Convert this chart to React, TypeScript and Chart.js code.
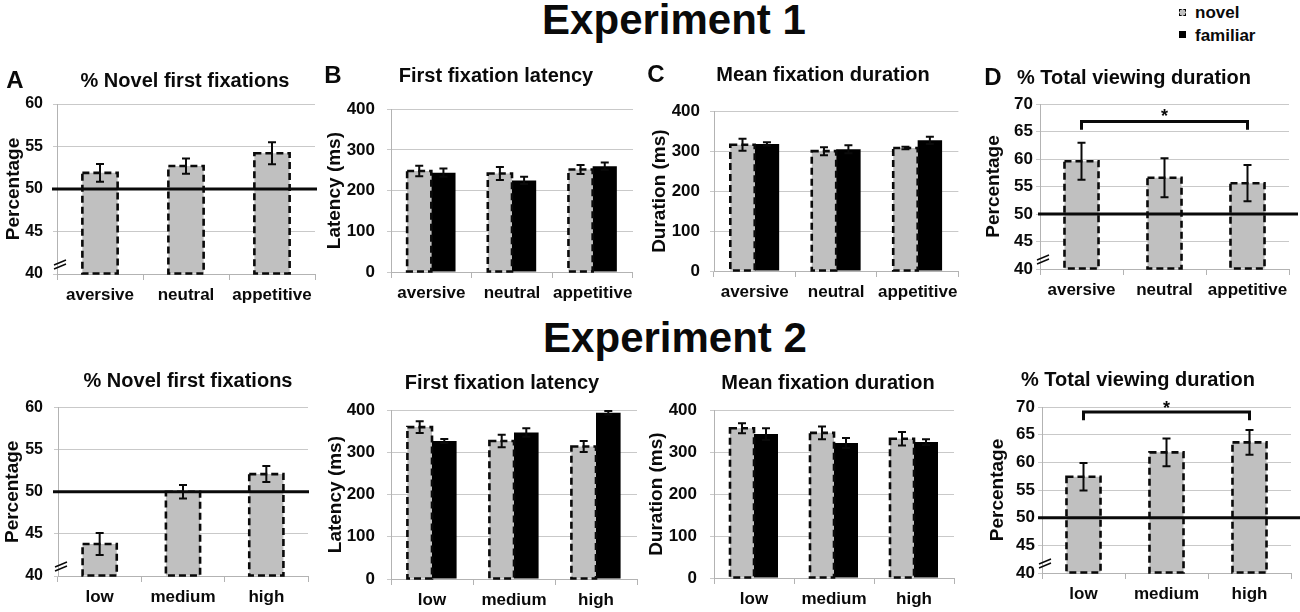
import React, { useEffect, useRef } from "react";
import { Chart, registerables } from "chart.js";

Chart.register(...registerables);

const FONT = "'Liberation Sans', Arial, Helvetica, sans-serif";

// ---------- categories ----------
const exp1Categories = ["aversive", "neutral", "appetitive"];
const exp2Categories = ["low", "medium", "high"];

// ---------- Experiment 1 ----------
const e1FirstFixNovel = [51.9, 52.7, 54.2];
const e1FirstFixNovelErr = [1.05, 0.9, 1.3];

const e1LatencyNovel = [248, 242, 252];
const e1LatencyNovelErr = [13, 16, 11];
const e1LatencyFamiliar = [244, 225, 260];
const e1LatencyFamiliarErr = [10, 9, 9];

const e1DurationNovel = [316, 300, 308];
const e1DurationNovelErr = [15, 10, 3];
const e1DurationFamiliar = [318, 305, 327];
const e1DurationFamiliarErr = [4, 10, 9];

const e1ViewingNovel = [59.6, 56.6, 55.6];
const e1ViewingNovelErr = [3.35, 3.55, 3.3];
const e1Bracket = { from: 0, to: 2, y: 66.8, tickEnd: 65.3, star: 68.6 };

// ---------- Experiment 2 ----------
const e2FirstFixNovel = [43.8, 50.0, 52.1];
const e2FirstFixNovelErr = [1.3, 0.8, 0.95];

const e2LatencyNovel = [360, 327, 314];
const e2LatencyNovelErr = [14, 15, 13];
const e2LatencyFamiliar = [327, 347, 394];
const e2LatencyFamiliarErr = [5, 10, 4];

const e2DurationNovel = [357, 346, 332];
const e2DurationNovelErr = [12, 15, 16];
const e2DurationFamiliar = [343, 322, 324];
const e2DurationFamiliarErr = [14, 12, 7];

const e2ViewingNovel = [57.4, 61.8, 63.6];
const e2ViewingNovelErr = [2.5, 2.5, 2.25];
const e2Bracket = { from: 0, to: 2, y: 69.1, tickEnd: 67.6, star: 70.6 };

// ---------- axis ranges ----------
const pctTicks = { min: 40, max: 60, step: 5 };
const pctTicksWide = { min: 40, max: 70, step: 5 };
const msTicks = { min: 0, max: 400, step: 100 };
const chanceLevel = 50;

type Bracket = { from: number; to: number; y: number; tickEnd: number; star: number };
type PanelData = {
  key: string;
  categories: string[];
  novel: number[];
  novelErr: number[];
  familiar?: number[];
  familiarErr?: number[];
  range: { min: number; max: number; step: number };
  yTitle: string;
  refLine?: number;
  bracket?: Bracket;
  breakMark?: boolean;
};

const panels: PanelData[] = [
  { key: "A", categories: exp1Categories, novel: e1FirstFixNovel, novelErr: e1FirstFixNovelErr, range: pctTicks, yTitle: "Percentage", refLine: chanceLevel, breakMark: true },
  { key: "B", categories: exp1Categories, novel: e1LatencyNovel, novelErr: e1LatencyNovelErr, familiar: e1LatencyFamiliar, familiarErr: e1LatencyFamiliarErr, range: msTicks, yTitle: "Latency (ms)" },
  { key: "C", categories: exp1Categories, novel: e1DurationNovel, novelErr: e1DurationNovelErr, familiar: e1DurationFamiliar, familiarErr: e1DurationFamiliarErr, range: msTicks, yTitle: "Duration (ms)" },
  { key: "D", categories: exp1Categories, novel: e1ViewingNovel, novelErr: e1ViewingNovelErr, range: pctTicksWide, yTitle: "Percentage", refLine: chanceLevel, bracket: e1Bracket, breakMark: true },
  { key: "E", categories: exp2Categories, novel: e2FirstFixNovel, novelErr: e2FirstFixNovelErr, range: pctTicks, yTitle: "Percentage", refLine: chanceLevel, breakMark: true },
  { key: "F", categories: exp2Categories, novel: e2LatencyNovel, novelErr: e2LatencyNovelErr, familiar: e2LatencyFamiliar, familiarErr: e2LatencyFamiliarErr, range: msTicks, yTitle: "Latency (ms)" },
  { key: "G", categories: exp2Categories, novel: e2DurationNovel, novelErr: e2DurationNovelErr, familiar: e2DurationFamiliar, familiarErr: e2DurationFamiliarErr, range: msTicks, yTitle: "Duration (ms)" },
  { key: "H", categories: exp2Categories, novel: e2ViewingNovel, novelErr: e2ViewingNovelErr, range: pctTicksWide, yTitle: "Percentage", refLine: chanceLevel, bracket: e2Bracket, breakMark: true },
];

// ---------- layout (pixel geometry, kept apart from data) ----------
type Geo = {
  axisTitleX: number; plotLeft: number; plotRight: number; plotTop: number; plotBottom: number;
  tickRight: number; extL: number; extR: number; tickFont: number;
};
const geometry: Record<string, Geo> = {
  A: { axisTitleX: 13, plotLeft: 57, plotRight: 315, plotTop: 104, plotBottom: 274, tickRight: 43, extL: 5, extR: 2, tickFont: 16 },
  B: { axisTitleX: 334, plotLeft: 391, plotRight: 634, plotTop: 107, plotBottom: 272, tickRight: 375, extL: 0, extR: 4, tickFont: 17 },
  C: { axisTitleX: 659, plotLeft: 714, plotRight: 959, plotTop: 111, plotBottom: 271, tickRight: 700, extL: 0, extR: 4, tickFont: 17 },
  D: { axisTitleX: 993, plotLeft: 1040, plotRight: 1289, plotTop: 104, plotBottom: 269, tickRight: 1033, extL: 2, extR: 9, tickFont: 17 },
  E: { axisTitleX: 12, plotLeft: 58, plotRight: 308, plotTop: 407, plotBottom: 576, tickRight: 43, extL: 5, extR: 1, tickFont: 16 },
  F: { axisTitleX: 335, plotLeft: 391, plotRight: 637, plotTop: 408, plotBottom: 579, tickRight: 375, extL: 0, extR: 4, tickFont: 17 },
  G: { axisTitleX: 656, plotLeft: 714, plotRight: 954, plotTop: 407, plotBottom: 578, tickRight: 697, extL: 0, extR: 4, tickFont: 17 },
  H: { axisTitleX: 997, plotLeft: 1042, plotRight: 1291, plotTop: 407, plotBottom: 573, tickRight: 1035, extL: 4, extR: 9, tickFont: 17 },
};

const NOVEL_FILL = "#c0c0c0";
const GRID = "#c9c9c9";
const AXIS = "#b3b3b3";
const INK = "#0a0a0a";

function makeExtras(p: PanelData, g: Geo) {
  return {
    id: "extras" + p.key,
    afterDatasetsDraw(chart: any) {
      const ctx: CanvasRenderingContext2D = chart.ctx;
      const ys = chart.scales.y;
      const xs = chart.scales.x;
      const area = chart.chartArea;
      const novelMeta = chart.getDatasetMeta(0);

      // dashed outline of the novel bars
      ctx.save();
      ctx.strokeStyle = INK;
      ctx.lineWidth = 2.6;
      ctx.setLineDash([7, 4]);
      novelMeta.data.forEach((el: any) => {
        const { x, y, base, width } = el.getProps(["x", "y", "base", "width"], true);
        const b = Math.min(base, area.bottom);
        ctx.strokeRect(x - width / 2, y, width, b - y);
      });
      ctx.restore();

      // chance line
      if (p.refLine !== undefined) {
        const yy = ys.getPixelForValue(p.refLine);
        ctx.save();
        ctx.strokeStyle = INK;
        ctx.lineWidth = 3;
        ctx.beginPath();
        ctx.moveTo(area.left - g.extL, yy);
        ctx.lineTo(area.right + g.extR, yy);
        ctx.stroke();
        ctx.restore();
      }

      // error bars
      const drawErr = (idx: number, vals: number[], errs: number[]) => {
        const meta = chart.getDatasetMeta(idx);
        ctx.save();
        ctx.strokeStyle = INK;
        ctx.lineWidth = 2;
        meta.data.forEach((el: any, i: number) => {
          const x = el.x;
          const yt = ys.getPixelForValue(vals[i] + errs[i]);
          const yb = ys.getPixelForValue(vals[i] - errs[i]);
          ctx.beginPath();
          ctx.moveTo(x, yt);
          ctx.lineTo(x, yb);
          ctx.moveTo(x - 4, yt);
          ctx.lineTo(x + 4, yt);
          ctx.moveTo(x - 4, yb);
          ctx.lineTo(x + 4, yb);
          ctx.stroke();
        });
        ctx.restore();
      };
      drawErr(0, p.novel, p.novelErr);
      if (p.familiar && p.familiarErr) drawErr(1, p.familiar, p.familiarErr);

      // significance bracket
      if (p.bracket) {
        const b = p.bracket;
        const x1 = xs.getPixelForValue(b.from);
        const x2 = xs.getPixelForValue(b.to);
        const yb = ys.getPixelForValue(b.y);
        const yt = ys.getPixelForValue(b.tickEnd);
        ctx.save();
        ctx.strokeStyle = INK;
        ctx.lineWidth = 3;
        ctx.beginPath();
        ctx.moveTo(x1, yt);
        ctx.lineTo(x1, yb);
        ctx.lineTo(x2, yb);
        ctx.lineTo(x2, yt);
        ctx.stroke();
        ctx.fillStyle = INK;
        ctx.font = `bold 18px ${FONT}`;
        ctx.textAlign = "center";
        ctx.textBaseline = "alphabetic";
        ctx.fillText("*", (x1 + x2) / 2, ys.getPixelForValue(b.star) + 10.5);
        ctx.restore();
      }

      // axis break mark
      if (p.breakMark) {
        const L = area.left;
        const B = area.bottom;
        ctx.save();
        ctx.strokeStyle = INK;
        ctx.lineWidth = 1.4;
        ctx.beginPath();
        ctx.moveTo(L - 3, B - 5);
        ctx.lineTo(L + 9, B - 10);
        ctx.moveTo(L - 3, B - 9);
        ctx.lineTo(L + 9, B - 14);
        ctx.stroke();
        ctx.restore();
      }
    },
  };
}

function PanelChart({ panel }: { panel: PanelData }) {
  const ref = useRef<HTMLCanvasElement>(null);
  const g = geometry[panel.key];
  const left = g.axisTitleX - 11;
  const topPad = 20;
  const top = g.plotTop - topPad;
  const rightPad = Math.max(g.extR, 4);
  const width = g.plotRight + rightPad - left;
  const xAxisH = 34;
  const height = g.plotBottom + xAxisH - top;
  const yAxisW = g.plotLeft - left;
  const yTickLen = 4;
  const yTickPad = g.plotLeft - yTickLen - g.tickRight;

  useEffect(() => {
    if (!ref.current) return;
    const paired = !!panel.familiar;
    const datasets: any[] = [
      {
        label: "novel",
        data: panel.novel,
        base: panel.range.min,
        backgroundColor: NOVEL_FILL,
        borderWidth: 0,
        categoryPercentage: paired ? 0.6 : 0.41,
        barPercentage: 1,
      },
    ];
    if (paired) {
      datasets.push({
        label: "familiar",
        data: panel.familiar,
        base: panel.range.min,
        backgroundColor: "#000000",
        borderWidth: 0,
        categoryPercentage: 0.6,
        barPercentage: 1,
      });
    }
    const chart = new Chart(ref.current, {
      type: "bar",
      data: { labels: panel.categories, datasets },
      options: {
        animation: false,
        responsive: false,
        events: [],
        layout: { padding: { left: 0, top: topPad, right: rightPad, bottom: 0 } },
        plugins: { legend: { display: false }, tooltip: { enabled: false }, title: { display: false } },
        scales: {
          x: {
            offset: true,
            grid: { offset: true, drawOnChartArea: false, drawTicks: true, tickLength: 6, color: AXIS, lineWidth: 1 },
            border: { display: true, color: AXIS, width: 1 },
            ticks: {
              padding: 5,
              color: INK,
              autoSkip: false,
              maxRotation: 0,
              font: { family: FONT, size: 17, weight: "bold" },
            },
            afterFit: (s: any) => {
              s.height = xAxisH;
            },
          },
          y: {
            min: panel.range.min,
            max: panel.range.max,
            ticks: {
              stepSize: panel.range.step,
              padding: yTickPad,
              color: INK,
              font: { family: FONT, size: g.tickFont, weight: "bold" },
            },
            grid: { color: GRID, lineWidth: 1, drawTicks: true, tickLength: yTickLen },
            border: { display: true, color: AXIS, width: 1 },
            title: {
              display: true,
              text: panel.yTitle,
              color: INK,
              padding: 0,
              font: { family: FONT, size: 19, weight: "bold" },
            },
            afterFit: (s: any) => {
              s.width = yAxisW;
            },
          },
        },
      } as any,
      plugins: [makeExtras(panel, g)],
    });
    return () => chart.destroy();
  }, []);

  return (
    <canvas
      ref={ref}
      width={width}
      height={height}
      style={{ position: "absolute", left, top, width, height }}
    />
  );
}

type Label = { text: string; x: number; y: number; size: number; align?: "center" | "left" };
const labels: Label[] = [
  { text: "Experiment 1", x: 674, y: 20, size: 42 },
  { text: "Experiment 2", x: 675, y: 338, size: 42 },
  { text: "A", x: 15, y: 80, size: 24 },
  { text: "B", x: 333, y: 75, size: 24 },
  { text: "C", x: 656, y: 74, size: 24 },
  { text: "D", x: 993, y: 77, size: 24 },
  { text: "% Novel first fixations", x: 185, y: 80, size: 20 },
  { text: "First fixation latency", x: 496, y: 75, size: 20 },
  { text: "Mean fixation duration", x: 823, y: 74, size: 20 },
  { text: "% Total viewing duration", x: 1134, y: 77, size: 20 },
  { text: "% Novel first fixations", x: 188, y: 380, size: 20 },
  { text: "First fixation latency", x: 502, y: 382, size: 20 },
  { text: "Mean fixation duration", x: 828, y: 382, size: 20 },
  { text: "% Total viewing duration", x: 1138, y: 379, size: 20 },
  { text: "novel", x: 1195, y: 12, size: 17, align: "left" },
  { text: "familiar", x: 1195, y: 35, size: 17, align: "left" },
];

function TextLabel({ l }: { l: Label }) {
  const center = (l.align ?? "center") === "center";
  return (
    <div
      style={{
        position: "absolute",
        left: center ? l.x - 300 : l.x,
        top: l.y - l.size / 2,
        width: center ? 600 : undefined,
        textAlign: center ? "center" : "left",
        fontFamily: FONT,
        fontWeight: "bold",
        fontSize: l.size,
        lineHeight: `${l.size}px`,
        whiteSpace: "nowrap",
        color: INK,
        pointerEvents: "none",
      }}
    >
      {l.text}
    </div>
  );
}

export default function App() {
  return (
    <div
      style={{
        position: "absolute",
        left: 0,
        top: 0,
        width: 1300,
        height: 612,
        overflow: "hidden",
        background: "#ffffff",
      }}
    >
      {panels.map((p) => (
        <PanelChart key={p.key} panel={p} />
      ))}
      {labels.map((l, i) => (
        <TextLabel key={i} l={l} />
      ))}
      {/* legend markers */}
      <div
        style={{
          position: "absolute",
          left: 1179,
          top: 9,
          width: 5,
          height: 5,
          background: NOVEL_FILL,
          border: "1px dashed #000",
        }}
      />
      <div
        style={{
          position: "absolute",
          left: 1179,
          top: 31,
          width: 7,
          height: 7,
          background: "#000",
        }}
      />
    </div>
  );
}
